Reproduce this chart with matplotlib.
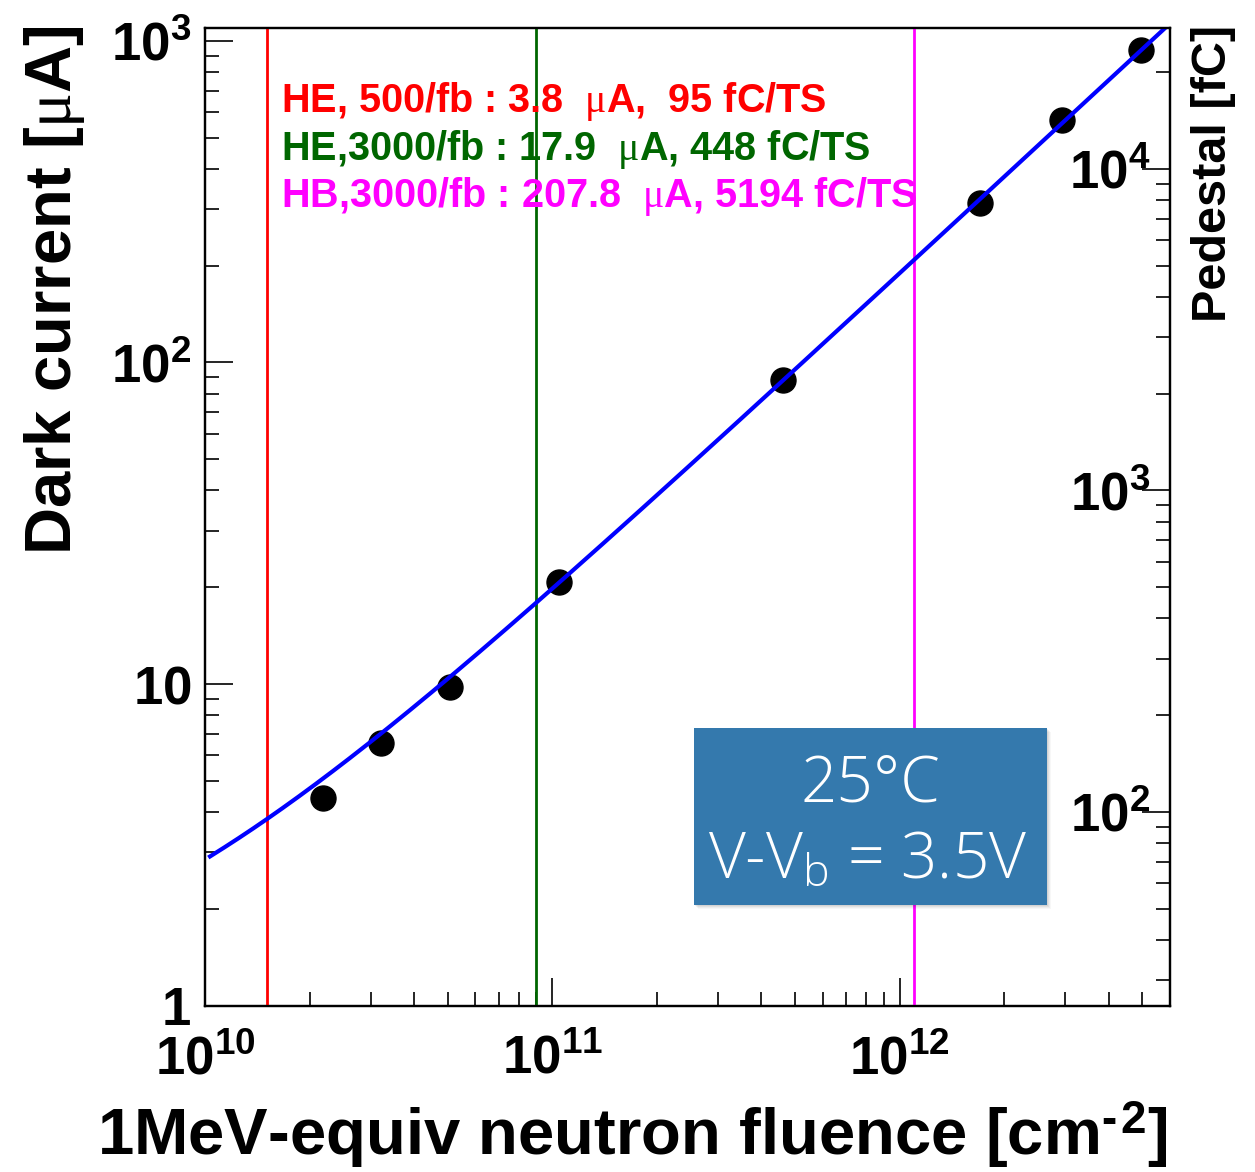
import numpy as np
import matplotlib
matplotlib.use("Agg")
import matplotlib.pyplot as plt
from matplotlib.ticker import FixedLocator, FuncFormatter, LogLocator, NullFormatter
from matplotlib.patches import Rectangle

# Measured SiPM dark current versus 1 MeV-equivalent neutron fluence
fluence = np.array([2.19e10, 3.22e10, 5.07e10, 1.046e11, 4.60e11, 1.70e12, 2.94e12, 4.96e12])
dark_current = np.array([4.41, 6.54, 9.81, 20.8, 88.1, 313.0, 566.0, 935.0])

# Linear fit  I = a + b * phi  (uA, cm^-2)
fit_intercept = 0.962
fit_slope = 1.8855e-10
fit_range = [1.034e10, 6.0e12]

# Luminosity scenarios: current at the expected fluence and pedestal per time sample
scenario_names = ["HE, 500/fb : ", "HE,3000/fb : ", "HB,3000/fb : "]
scenario_current = [3.8, 17.9, 207.8]
scenario_current_text = ["3.8", "17.9", "207.8"]
scenario_charge_text = ["95", "448", "5194"]
scenario_sep = [",  ", ", ", ", "]
scenario_colors = ["#ff0000", "#006600", "#ff00ff"]

# Pedestal charge per unit dark current [fC / uA]
pedestal_per_uA = 25.0

x_limits = [1e10, 6e12]
y_limits = [1.0, 1100.0]
x_major = [1e10, 1e11, 1e12]
y_major = [1, 10, 100, 1000]
y_major_labels = [r"$\mathbf{1}$", r"$\mathbf{10}$", r"$\mathbf{10^{2}}$", r"$\mathbf{10^{3}}$"]
ped_major = [1e2, 1e3, 1e4]

plt.rcParams["font.family"] = ["Liberation Sans", "DejaVu Sans"]
plt.rcParams["font.weight"] = "bold"
plt.rcParams["mathtext.fontset"] = "custom"
plt.rcParams["mathtext.rm"] = "Liberation Serif:weight=normal"
plt.rcParams["mathtext.it"] = "Liberation Serif:style=italic:weight=normal"
plt.rcParams["mathtext.bf"] = "Liberation Sans:weight=bold"

W, H = 1255, 1172


def fx(px):
    return px / W


def fy(py):
    return 1 - py / H


def pow10_label(v, pos=None):
    return r"$\mathbf{10^{%d}}$" % int(round(np.log10(v)))


fig = plt.figure(figsize=(W / 100, H / 100), dpi=100)
ax = fig.add_axes([fx(205), fy(1005.7), (1170 - 205) / W, (1005.7 - 27.5) / H])
ax.set_xscale("log")
ax.set_yscale("log")
ax.set_xlim(*x_limits)
ax.set_ylim(*y_limits)

for sp in ax.spines.values():
    sp.set_linewidth(1.6)

ax.xaxis.set_major_locator(FixedLocator(x_major))
ax.xaxis.set_minor_locator(LogLocator(base=10, subs=np.arange(2, 10), numticks=30))
ax.xaxis.set_minor_formatter(NullFormatter())
ax.xaxis.set_major_formatter(FuncFormatter(pow10_label))
ax.yaxis.set_major_locator(FixedLocator(y_major))
ax.yaxis.set_minor_locator(LogLocator(base=10, subs=np.arange(2, 10), numticks=30))
ax.yaxis.set_minor_formatter(NullFormatter())
ax.yaxis.set_major_formatter(
    FuncFormatter(lambda v, p: y_major_labels[y_major.index(int(round(v)))])
)

ax.tick_params(which="both", direction="in", top=False, right=False, width=1.2)
ax.tick_params(which="major", length=20, labelsize=38)
ax.tick_params(which="minor", length=10)
ax.tick_params(axis="x", which="major", pad=21)
ax.tick_params(axis="y", which="major", pad=10)

# Secondary scale: pedestal charge
ax2 = ax.twinx()
ax2.set_yscale("log")
ax2.set_ylim(y_limits[0] * pedestal_per_uA, y_limits[1] * pedestal_per_uA)
ax2.yaxis.set_major_locator(FixedLocator(ped_major))
ax2.yaxis.set_minor_locator(LogLocator(base=10, subs=np.arange(2, 10), numticks=30))
ax2.yaxis.set_minor_formatter(NullFormatter())
ax2.yaxis.set_major_formatter(FuncFormatter(pow10_label))
ax2.tick_params(axis="y", which="both", direction="in", width=1.2)
ax2.tick_params(axis="y", which="major", length=20, labelsize=38, pad=-14.4)
ax2.tick_params(axis="y", which="minor", length=10)
plt.setp(ax2.get_yticklabels(), ha="right")
for sp in ax2.spines.values():
    sp.set_linewidth(1.6)

# Scenario annotations
baselines = [112, 160, 207]
for name, cur, sep, chg, col, yb in zip(scenario_names, scenario_current_text, scenario_sep,
                                        scenario_charge_text, scenario_colors, baselines):
    s = name + cur + r"  $\mathrm{\mu}$A" + sep + chg + " fC/TS"
    fig.text(fx(281), fy(yb), s, color=col, fontsize=28.5, va="baseline", ha="left", zorder=2)

# Vertical markers at the scenario fluences (inverse of the fit)
for cur, col in zip(scenario_current, scenario_colors):
    phi = (cur - fit_intercept) / fit_slope
    ax.axvline(phi, color=col, lw=2.0, zorder=3)

# Data points and fit
ax.plot(fluence, dark_current, "o", color="black", ms=18, zorder=4)
phi_fit = np.logspace(np.log10(fit_range[0]), np.log10(fit_range[1]), 400)
ax.plot(phi_fit, fit_intercept + fit_slope * phi_fit, color="#0000ff", lw=3.0, zorder=5)

# Axis titles
fig.text(fx(1168), fy(1155), "1MeV-equiv neutron fluence [cm$^{\\mathbf{\u2010\u200a2}}$]",
         fontsize=47, ha="right", va="baseline")
fig.text(fx(55), fy(25), r"Dark current [$\mathrm{\mu}$A]", fontsize=47,
         rotation=90, ha="center", va="top")
fig.text(fx(1213), fy(25), "Pedestal [fC]", fontsize=35, rotation=90, ha="center", va="top")

# Operating-condition box with soft shadow
bx0, by0, bx1, by1 = 694, 728, 1047, 905
for i, a in enumerate([0.06, 0.05, 0.04, 0.03]):
    off = 1 + i
    fig.patches.append(Rectangle((fx(bx0 + off), fy(by1 + off)), (bx1 - bx0) / W,
                                 (by1 - by0) / H, transform=fig.transFigure,
                                 facecolor="black", alpha=a, edgecolor="none", zorder=8))
fig.patches.append(Rectangle((fx(bx0), fy(by1)), (bx1 - bx0) / W, (by1 - by0) / H,
                             transform=fig.transFigure, facecolor="#3479ad",
                             edgecolor="none", zorder=9))
light = dict(family=["Open Sans", "Roboto", "DejaVu Sans"], weight="light",
             color="white", fontsize=46, ha="center", va="baseline", zorder=10)
fig.text(fx(870), fy(801.5), "25°C", **light)
fig.text(fx(868), fy(878), r"V-V$_{\mathregular{b}}$ = 3.5V", **light)

fig.savefig("out.png", dpi=100)
